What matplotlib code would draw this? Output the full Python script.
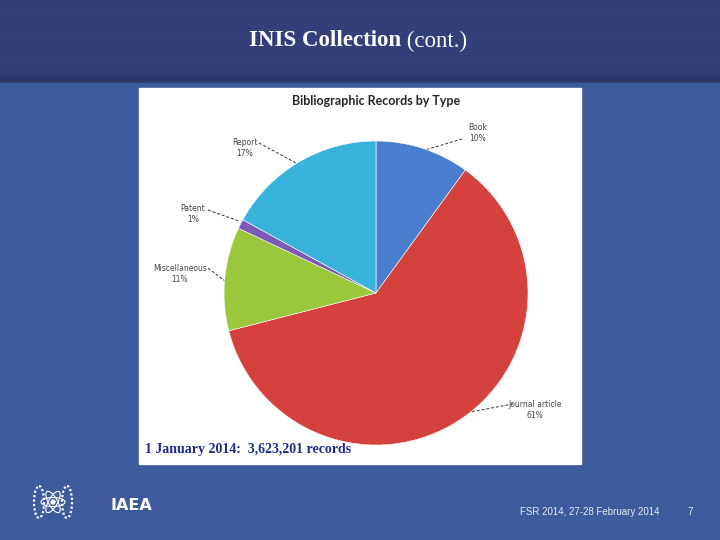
import matplotlib.pyplot as plt
from matplotlib.patches import Rectangle, Ellipse, Circle

# data
types = ['Book', 'Journal article', 'Miscellaneous', 'Patent', 'Report']
shares = [10, 61, 11, 1, 17]
colors = ['#4a7fd0', '#d5413c', '#9bc73c', '#7d5ab5', '#38b4dc']
# label anchor (px) and leader-line end on pie (px)
label_xy = [(478, 133), (535, 410), (180, 274), (193, 214), (245, 148)]
line_end = [(425, 150), (470, 412), (229, 284), (239, 221), (296, 163)]
line_start = [(462, 139), (513, 404), (208, 268), (208, 210), (259, 143)]

fig = plt.figure(figsize=(7.2, 5.4), dpi=100)

# background slide
bg = fig.add_axes([0, 0, 1, 1])
bg.set_xlim(0, 720)
bg.set_ylim(540, 0)
bg.axis('off')
bg.add_patch(Rectangle((0, 0), 720, 540, color='#3f5c9f', zorder=0))
bg.add_patch(Rectangle((0, 0), 720, 80, color='#353f7b', zorder=1))
bg.add_patch(Rectangle((0, 74), 720, 4, color='#313a72', zorder=1))
bg.add_patch(Rectangle((0, 78), 720, 4, color='#2c3568', zorder=1))
for y in range(0, 540, 3):
    c = '#303a72' if y < 80 else '#3a5696'
    bg.plot([0, 720], [y + 0.5, y + 0.5], color=c, lw=0.6, alpha=0.6, zorder=2)
bg.add_patch(Rectangle((139, 88), 442, 376, color='white', zorder=3))

bg.text(401, 41, 'INIS Collection', ha='right', va='center', color='white',
        fontsize=16.5, fontweight='bold', family='Liberation Serif', zorder=4)
bg.text(401, 41, ' (cont.)', ha='left', va='center', color='white',
        fontsize=16.5, family='Liberation Serif', zorder=4)
bg.text(376, 101, 'Bibliographic Records by Type', ha='center', va='center',
        color='#262626', fontsize=9, fontweight='bold', family='Lato', zorder=4)
bg.text(145, 450, '1 January 2014:  3,623,201 records', ha='left', va='center',
        color='#1e2a8c', fontsize=10, fontweight='bold', family='Liberation Serif', zorder=6)

# leader lines and labels
for name, s, (lx, ly), (sx, sy), (ex, ey) in zip(types, shares, label_xy, line_start, line_end):
    bg.plot([sx, ex], [sy, ey], color='#333333', lw=0.7, ls=(0, (3, 2)), zorder=4)
    bg.text(lx, ly, '%s\n%d%%' % (name, s), ha='center', va='center', color='#444444',
            fontsize=5.5, linespacing=1.4, family='DejaVu Sans', zorder=4)

# footer
bg.text(111, 506, 'IAEA', ha='left', va='center', color='white', fontsize=11.5,
        fontweight='bold', family='DejaVu Sans', zorder=4)
bg.text(660, 512, 'FSR 2014, 27-28 February 2014', ha='right', va='center',
        color='#e6e9f2', fontsize=7, family='Liberation Sans', zorder=4)
bg.text(690, 512, '7', ha='center', va='center', color='#e6e9f2', fontsize=7,
        family='Liberation Sans', zorder=4)
# emblem
cx, cy = 53, 502
for ang in (0, 60, 120):
    bg.add_patch(Ellipse((cx, cy), 24, 9, angle=ang, fill=False, ec='white', lw=0.8, zorder=4))
bg.add_patch(Circle((cx, cy), 2, color='white', zorder=4))
bg.add_patch(Ellipse((cx - 14, cy), 10, 32, fill=False, ec='white', lw=1.6, ls=(0, (1, 1)), zorder=4))
bg.add_patch(Ellipse((cx + 14, cy), 10, 32, fill=False, ec='white', lw=1.6, ls=(0, (1, 1)), zorder=4))

# pie
pcx, pcy, r = 376, 293, 152
ax = fig.add_axes([(pcx - r) / 720, (540 - pcy - r) / 540, 2 * r / 720, 2 * r / 540])
ax.pie(shares, colors=colors, startangle=90, counterclock=False,
       wedgeprops=dict(edgecolor='#ffffff', linewidth=0.4))
ax.set_xlim(-1, 1)
ax.set_ylim(-1, 1)
ax.set_zorder(5)
ax.patch.set_alpha(0)

fig.savefig('out.png', dpi=100)
